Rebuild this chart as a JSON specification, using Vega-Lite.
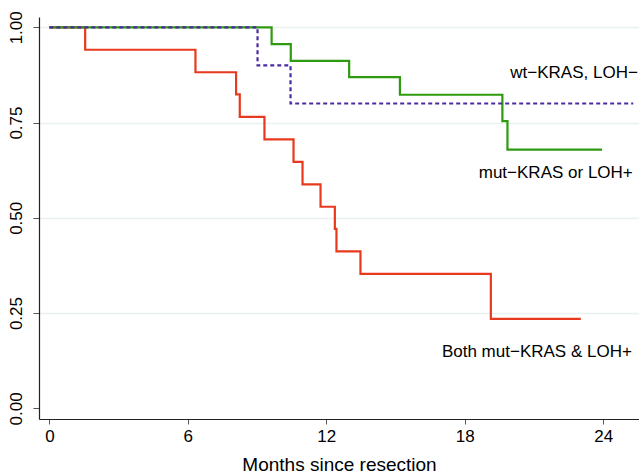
{
  "$schema": "https://vega.github.io/schema/vega-lite/v6.json",
  "width": 600,
  "height": 402,
  "autosize": "none",
  "padding": {"left": 39, "top": 17, "right": 0, "bottom": 54},
  "background": "white",
  "config": {
    "view": {"stroke": null},
    "font": "Liberation Sans",
    "axis": {"labelFont": "Liberation Sans", "titleFont": "Liberation Sans", "labelColor": "#000", "titleColor": "#000", "titleFontWeight": "normal"}
  },
  "datasets": {
    "curves": [
      {"group": "Both mut−KRAS & LOH+", "month": 0, "surv": 1.0},
      {"group": "Both mut−KRAS & LOH+", "month": 1.55, "surv": 0.941},
      {"group": "Both mut−KRAS & LOH+", "month": 6.33, "surv": 0.882},
      {"group": "Both mut−KRAS & LOH+", "month": 8.09, "surv": 0.824},
      {"group": "Both mut−KRAS & LOH+", "month": 8.25, "surv": 0.765},
      {"group": "Both mut−KRAS & LOH+", "month": 9.32, "surv": 0.706},
      {"group": "Both mut−KRAS & LOH+", "month": 10.58, "surv": 0.647},
      {"group": "Both mut−KRAS & LOH+", "month": 10.97, "surv": 0.588},
      {"group": "Both mut−KRAS & LOH+", "month": 11.75, "surv": 0.529},
      {"group": "Both mut−KRAS & LOH+", "month": 12.37, "surv": 0.471},
      {"group": "Both mut−KRAS & LOH+", "month": 12.44, "surv": 0.412},
      {"group": "Both mut−KRAS & LOH+", "month": 13.48, "surv": 0.353},
      {"group": "Both mut−KRAS & LOH+", "month": 19.13, "surv": 0.235},
      {"group": "Both mut−KRAS & LOH+", "month": 23.03, "surv": 0.235},
      {"group": "mut−KRAS or LOH+", "month": 0, "surv": 1.0},
      {"group": "mut−KRAS or LOH+", "month": 9.63, "surv": 0.956},
      {"group": "mut−KRAS or LOH+", "month": 10.46, "surv": 0.912},
      {"group": "mut−KRAS or LOH+", "month": 12.99, "surv": 0.869},
      {"group": "mut−KRAS or LOH+", "month": 15.19, "surv": 0.823},
      {"group": "mut−KRAS or LOH+", "month": 19.63, "surv": 0.754},
      {"group": "mut−KRAS or LOH+", "month": 19.85, "surv": 0.679},
      {"group": "mut−KRAS or LOH+", "month": 23.95, "surv": 0.679},
      {"group": "wt−KRAS, LOH−", "month": 0, "surv": 1.0},
      {"group": "wt−KRAS, LOH−", "month": 9.02, "surv": 0.9},
      {"group": "wt−KRAS, LOH−", "month": 10.45, "surv": 0.8},
      {"group": "wt−KRAS, LOH−", "month": 25.3, "surv": 0.8}
    ],
    "labels": [
      {"group": "wt−KRAS, LOH−", "month": 25.5, "surv": 0.88},
      {"group": "mut−KRAS or LOH+", "month": 25.28, "surv": 0.618},
      {"group": "Both mut−KRAS & LOH+", "month": 25.24, "surv": 0.149}
    ]
  },
  "encoding": {
    "x": {
      "field": "month", "type": "quantitative",
      "scale": {"domain": [-0.45, 25.55], "nice": false, "zero": false},
      "axis": {
        "values": [0, 6, 12, 18, 24], "title": "Months since resection",
        "grid": false, "labelFontSize": 17, "titleFontSize": 19,
        "tickSize": 5, "tickColor": "#555", "domainColor": "#222", "domainWidth": 1.2,
        "labelPadding": 4, "titlePadding": 11, "labelFlush": false
      }
    },
    "y": {
      "field": "surv", "type": "quantitative",
      "scale": {"domain": [-0.028, 1.027], "nice": false, "zero": false},
      "axis": {
        "values": [0, 0.25, 0.5, 0.75, 1], "format": ".2f", "title": null,
        "labelAngle": -90, "labelFontSize": 17, "labelPadding": 8,
        "tickSize": 6, "tickColor": "#555", "domainColor": "#222", "domainWidth": 1.2,
        "labelFlush": false,
        "grid": true, "gridColor": "#eaf1f1", "gridWidth": 1.5,
        "gridOpacity": {"condition": {"test": "datum.value === 0", "value": 0}, "value": 1}
      }
    }
  },
  "layer": [
    {
      "data": {"name": "curves"},
      "mark": {"type": "line", "interpolate": "step-after", "strokeWidth": 2.2},
      "encoding": {
        "detail": {"field": "group"},
        "color": {
          "field": "group", "type": "nominal", "legend": null,
          "scale": {"domain": ["Both mut−KRAS & LOH+", "mut−KRAS or LOH+", "wt−KRAS, LOH−"], "range": ["#e8391e", "#2e9a10", "#4a2aa0"]}
        },
        "strokeDash": {
          "field": "group", "type": "nominal", "legend": null,
          "scale": {"domain": ["Both mut−KRAS & LOH+", "mut−KRAS or LOH+", "wt−KRAS, LOH−"], "range": [[1, 0], [1, 0], [4, 3]]}
        }
      }
    },
    {
      "data": {"name": "labels"},
      "mark": {"type": "text", "align": "right", "baseline": "middle", "fontSize": 17, "font": "Liberation Sans", "color": "#000"},
      "encoding": {"text": {"field": "group"}}
    }
  ]
}
